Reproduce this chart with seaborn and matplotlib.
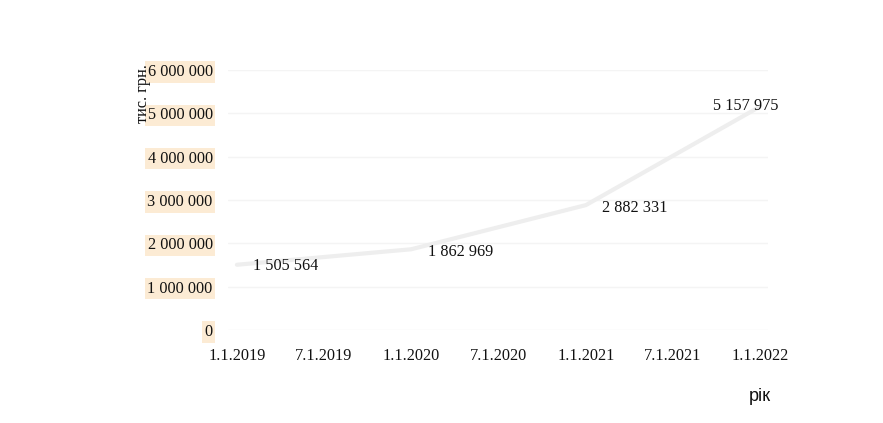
import matplotlib
matplotlib.use("Agg")
import matplotlib.pyplot as plt
import seaborn as sns
import pandas as pd

# Annual values, thousand UAH
dates = ["2019-01-01", "2020-01-01", "2021-01-01", "2022-01-01"]
values = [1505564, 1862969, 2882331, 5157975]
value_labels = ["1 505 564", "1 862 969", "2 882 331", "5 157 975"]

tick_dates = ["2019-01-01", "2019-07-01", "2020-01-01", "2020-07-01",
              "2021-01-01", "2021-07-01", "2022-01-01"]
tick_labels = ["1.1.2019", "7.1.2019", "1.1.2020", "7.1.2020",
               "1.1.2021", "7.1.2021", "1.1.2022"]
y_ticks = [0, 1000000, 2000000, 3000000, 4000000, 5000000, 6000000]
y_tick_labels = ["0", "1 000 000", "2 000 000", "3 000 000",
                 "4 000 000", "5 000 000", "6 000 000"]

df = pd.DataFrame({"date": pd.to_datetime(dates), "value": values})

sns.set_theme(style="white")
plt.rcParams["font.family"] = ["Liberation Serif", "DejaVu Serif"]

fig = plt.figure(figsize=(8.83, 4.23), dpi=100)
ax = fig.add_axes([228 / 883, 1 - 330 / 423, (768 - 228) / 883, (330 - 70) / 423])

sns.lineplot(data=df, x="date", y="value", ax=ax, color="#eeeeee",
             linewidth=3, solid_capstyle="round", solid_joinstyle="round")

# value labels next to each point
offsets = [(16, -1), (17, -3), (16, -3), (-47, 0)]
for d, v, lab, off in zip(df["date"], values, value_labels, offsets):
    ax.annotate(lab, xy=(d, v), xytext=off, textcoords="offset pixels",
                ha="left", va="center", fontsize=11.7, color="#111111")

ax.set_ylim(0, 6000000)
x0 = pd.Timestamp("2019-01-01")
x1 = pd.Timestamp("2022-01-01")
span = x1 - x0
ax.set_xlim(x0 - span * 0.017, x1 + span * 0.015)

ax.set_yticks(y_ticks)
ax.set_yticklabels(y_tick_labels, fontsize=11.7, color="#111111")
ax.set_xticks(pd.to_datetime(tick_dates))
ax.set_xticklabels(tick_labels, fontsize=11.7, color="#111111")
ax.tick_params(axis="y", length=0, pad=11)
ax.tick_params(axis="x", length=0, pad=13)
for t in ax.get_yticklabels():
    t.set_bbox(dict(boxstyle="square,pad=0.16", facecolor="#fcebd4",
                    edgecolor="none"))

ax.grid(axis="y", color="#f4f4f4", linewidth=1)
ax.grid(axis="x", visible=False)
for s in ax.spines.values():
    s.set_visible(False)
ax.set_xlabel("")
ax.set_ylabel("")

fig.text(143 / 883, 1 - 94 / 423, "тис. грн.", rotation=90, ha="center",
         va="center", fontsize=11.7, color="#111111")
fig.text(760 / 883, 1 - 396 / 423, "рік", ha="center", va="center",
         fontsize=13, color="#111111", family=["Liberation Sans", "DejaVu Sans"])

fig.savefig("out.png", dpi=100)
